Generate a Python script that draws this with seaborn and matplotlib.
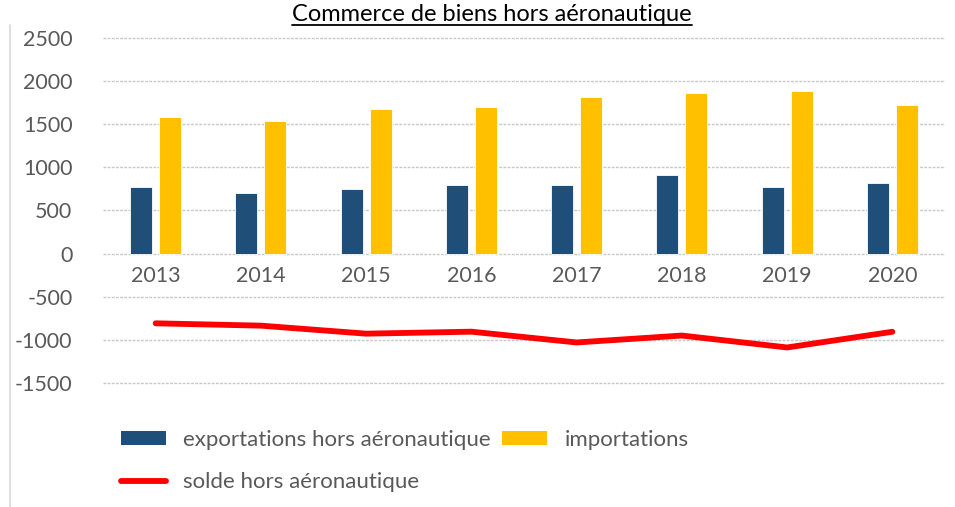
import numpy as np
import pandas as pd
import matplotlib
matplotlib.use("Agg")
import matplotlib.pyplot as plt
from matplotlib.patches import Patch
from matplotlib.lines import Line2D
import seaborn as sns

years = ["2013", "2014", "2015", "2016", "2017", "2018", "2019", "2020"]
exportations = [772, 702, 752, 797, 797, 911, 772, 818]
importations = [1582, 1539, 1677, 1700, 1817, 1860, 1883, 1721]
solde = [-808, -835, -928, -905, -1030, -950, -1088, -906]
yticks = [-1500, -1000, -500, 0, 500, 1000, 1500, 2000, 2500]

lab_exp = "exportations hors aéronautique"
lab_imp = "importations"
lab_sol = "solde hors aéronautique"
title = "Commerce de biens hors aéronautique"

c_exp = "#1F4E79"
c_imp = "#FFC000"
c_sol = "#FF0000"
txt = "#595959"

sns.set_theme(style="white")
plt.rcParams["font.family"] = ["Lato", "DejaVu Sans"]

df = pd.DataFrame({
    "year": years * 2,
    "value": exportations + importations,
    "serie": [lab_exp] * len(years) + [lab_imp] * len(years),
})

fig = plt.figure(figsize=(9.55, 5.07), dpi=100)
ax = fig.add_axes([103 / 955, 1 - 383 / 507, (945 - 103) / 955, (383 - 38) / 507])

sns.barplot(data=df, x="year", y="value", hue="serie", order=years,
            hue_order=[lab_exp, lab_imp], palette=[c_exp, c_imp],
            saturation=1, width=0.55, gap=0.24, ax=ax, legend=False,
            edgecolor="white", linewidth=0.6)
sns.lineplot(x=np.arange(len(years)), y=solde, color=c_sol, linewidth=4.2,
             ax=ax, solid_capstyle="round", solid_joinstyle="round")

ax.set_xlim(-0.5, len(years) - 0.5)
ax.set_ylim(yticks[0], yticks[-1])
ax.set_yticks(yticks)
ax.set_yticklabels([str(v) for v in yticks])
ax.set_xlabel("")
ax.set_ylabel("")
for s in ax.spines.values():
    s.set_visible(False)
ax.spines["bottom"].set_position(("data", 0))
ax.yaxis.grid(True, color="#c8c8c8", linestyle=(0, (2, 1)), linewidth=1.0)
for gl in ax.yaxis.get_gridlines():
    gl.set_clip_on(False)
ax.set_axisbelow(True)
ax.tick_params(axis="y", length=0, pad=22, labelsize=15.5, labelcolor=txt)
ax.tick_params(axis="x", length=0, pad=9, labelsize=15.5, labelcolor=txt)

# chart border line on the left
fig.add_artist(Line2D([10 / 955, 10 / 955], [0, 1 - 25 / 507],
                      transform=fig.transFigure, color="#d9d9d9", linewidth=1.2))

# title with underline
t = fig.text(0.515, 1 - 21 / 507, title, ha="center", va="baseline",
             fontsize=17, color="black")
fig.canvas.draw()
bb = t.get_window_extent(renderer=fig.canvas.get_renderer())
inv = fig.transFigure.inverted()
(x0, _), (x1, _) = inv.transform([(bb.x0, 0), (bb.x1, 0)])
fig.add_artist(Line2D([x0, x1], [1 - 25 / 507, 1 - 25 / 507], transform=fig.transFigure,
                      color="black", linewidth=1.3))

handles = [Patch(facecolor=c_exp, edgecolor="none"),
           Line2D([0], [0], color=c_sol, linewidth=4.2, solid_capstyle="round"),
           Patch(facecolor=c_imp, edgecolor="none")]
labels = [lab_exp, lab_sol, lab_imp]
fig.legend(handles, labels, ncol=2, loc="upper left",
           bbox_to_anchor=(110 / 955, 1 - 419 / 507), frameon=False,
           fontsize=16, labelcolor=txt, handlelength=2.0, handleheight=0.6,
           handletextpad=0.8, columnspacing=0.5, labelspacing=1.0, borderpad=0)

fig.savefig("out.png", dpi=100)
